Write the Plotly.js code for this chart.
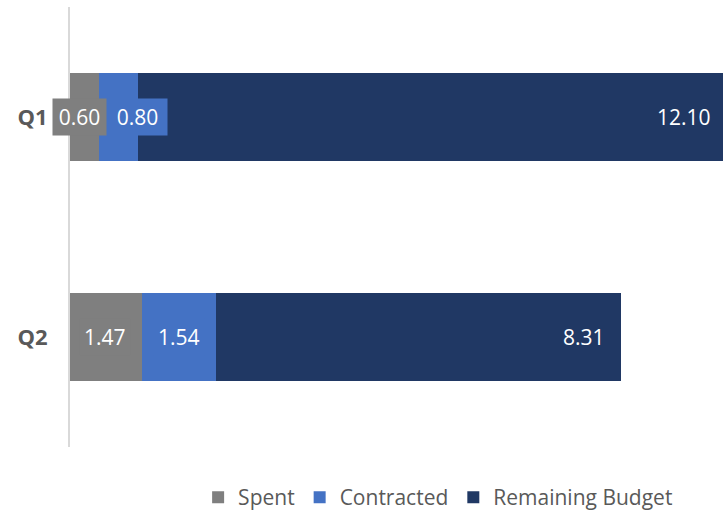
<!DOCTYPE html>
<html>
<head>
<meta charset="utf-8">
<script src="https://cdn.plot.ly/plotly-3.0.1.min.js"></script>
<style>
html,body{margin:0;padding:0;background:#fff;overflow:hidden;width:723px;height:510px;}
#chart{width:727px;height:510px;}
</style>
</head>
<body>
<div id="chart"></div>
<script>
const categories = ['Q1', 'Q2'];
const spent = [0.60, 1.47];
const contracted = [0.80, 1.54];
const remaining = [12.10, 8.31];
const seriesNames = ['Spent', 'Contracted', 'Remaining Budget'];
const colors = ['#7f7f7f', '#4472c4', '#203864'];

const series = [spent, contracted, remaining];
const traces = series.map((vals, i) => ({
  type: 'bar',
  orientation: 'h',
  name: seriesNames[i],
  y: categories,
  x: vals,
  marker: {color: colors[i], line: {width: 0}},
  hoverinfo: 'x+name'
}));

const fontFam = '"Open Sans", "Noto Sans", sans-serif';
const annotations = [];
categories.forEach((cat, ci) => {
  let cum = 0;
  series.forEach((vals, si) => {
    const start = cum;
    cum += vals[ci];
    const small = vals[ci] < 1.0;
    let ann = {
      x: cum, y: cat, xref: 'x', yref: 'y',
      text: vals[ci].toFixed(2),
      showarrow: false,
      xanchor: 'right', yanchor: 'middle',
      xshift: -11,
      font: {family: fontFam, size: 21, color: '#ffffff'},
      bgcolor: colors[si],
      borderpad: 4
    };
    if (small) {
      if (si === 0) { ann.xshift = 8; ann.width = 45; ann.align = 'center'; }
      else { ann.x = start; ann.xanchor = 'left'; ann.xshift = 8; ann.width = 51; ann.align = 'center'; }
    }
    annotations.push(ann);
  });
});

const layout = {
  width: 727, height: 510,
  margin: {l: 70, r: 0, t: 7, b: 63, autoexpand: false},
  barmode: 'stack',
  bargap: 0.6,
  paper_bgcolor: '#ffffff',
  plot_bgcolor: '#ffffff',
  showlegend: true,
  legend: {
    orientation: 'h',
    x: 0.195, xanchor: 'left',
    y: -0.115, yanchor: 'middle',
    font: {family: fontFam, size: 21, color: '#595959'},
    traceorder: 'normal'
  },
  xaxis: {
    range: [0, 13.5],
    showgrid: false, zeroline: false, showline: false,
    showticklabels: false, ticks: ''
  },
  yaxis: {
    type: 'category',
    range: [1.5, -0.5],
    showgrid: false, zeroline: false,
    showline: true, linecolor: '#d9d9d9', linewidth: 2,
    ticks: 'outside', ticklen: 16, tickcolor: 'rgba(0,0,0,0)',
    tickfont: {family: fontFam, size: 22, color: '#595959', weight: 'bold'}
  },
  annotations: annotations
};

Plotly.newPlot('chart', traces, layout, {displayModeBar: false, staticPlot: true});
</script>
</body>
</html>
